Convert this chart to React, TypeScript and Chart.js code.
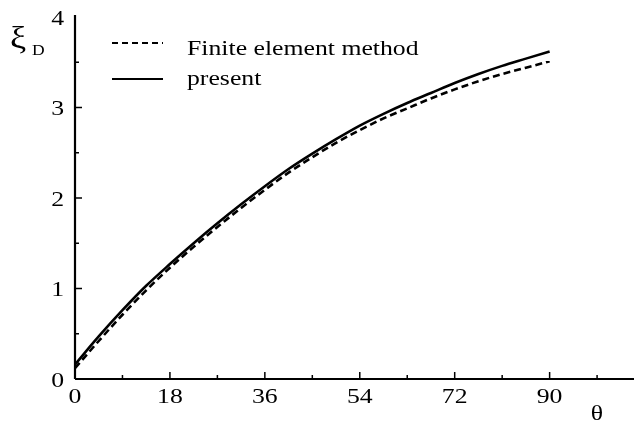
import React, { useEffect, useRef } from "react";
import { Chart, registerables } from "chart.js";

Chart.register(...registerables);

// ---- data ----
const thetaValues = [0, 4.5, 9, 13.5, 18, 22.5, 27, 31.5, 36, 40.5, 45, 49.5, 54, 58.5, 63, 67.5, 72, 76.5, 81, 85.5, 90];
const feValues = [0.12, 0.42, 0.71, 0.98, 1.23, 1.46, 1.68, 1.89, 2.09, 2.28, 2.45, 2.61, 2.75, 2.88, 2.99, 3.1, 3.2, 3.29, 3.37, 3.44, 3.51];
const presentValues = [0.16, 0.47, 0.76, 1.03, 1.27, 1.5, 1.72, 1.93, 2.13, 2.32, 2.49, 2.65, 2.8, 2.93, 3.05, 3.16, 3.27, 3.37, 3.46, 3.54, 3.62];

const xTickValues = [0, 18, 36, 54, 72, 90];
const xMinorTickValues = [9, 27, 45, 63, 81, 99];
const yTickValues = [0, 1, 2, 3, 4];
const yMinorTickValues = [0.5, 1.5, 2.5, 3.5];

const seriesNames = ["Finite element method", "present"];
const xAxisTitle = "θ";
const yAxisTitle = "ξ";
const yAxisSubscript = "D";

const FONT = "'Liberation Serif', 'DejaVu Serif', serif";
const STRETCH = 1.17;

function stretchedText(
  ctx: CanvasRenderingContext2D,
  text: string,
  x: number,
  y: number,
  size: number,
  align: CanvasTextAlign
) {
  ctx.save();
  ctx.font = `${size}px ${FONT}`;
  ctx.textAlign = align;
  ctx.textBaseline = "alphabetic";
  ctx.translate(x, y);
  ctx.scale(STRETCH, 1);
  ctx.fillText(text, 0, 0);
  ctx.restore();
}

const decorPlugin = {
  id: "decor",
  afterDraw(chart: any) {
    const ctx = chart.ctx as CanvasRenderingContext2D;
    const { left, top, bottom } = chart.chartArea;
    const xs = chart.scales.x;
    const ys = chart.scales.y;
    ctx.save();
    ctx.strokeStyle = "#000";
    ctx.fillStyle = "#000";
    // axes
    ctx.lineWidth = 2.2;
    ctx.beginPath();
    ctx.moveTo(left, bottom);
    ctx.lineTo(chart.width, bottom);
    ctx.moveTo(left, bottom);
    ctx.lineTo(left, top - 2);
    ctx.stroke();
    // ticks (inward)
    ctx.lineWidth = 1.5;
    ctx.beginPath();
    xTickValues.forEach((v) => {
      if (v === 0) return;
      const px = xs.getPixelForValue(v);
      ctx.moveTo(px, bottom);
      ctx.lineTo(px, bottom - 7);
    });
    xMinorTickValues.forEach((v) => {
      const px = xs.getPixelForValue(v);
      ctx.moveTo(px, bottom);
      ctx.lineTo(px, bottom - 4);
    });
    yTickValues.forEach((v) => {
      if (v === 0 || v === 4) return;
      const py = ys.getPixelForValue(v);
      ctx.moveTo(left, py);
      ctx.lineTo(left + 7, py);
    });
    yMinorTickValues.forEach((v) => {
      const py = ys.getPixelForValue(v);
      ctx.moveTo(left, py);
      ctx.lineTo(left + 4, py);
    });
    ctx.stroke();

    // tick labels
    xTickValues.forEach((v) => {
      stretchedText(ctx, String(v), xs.getPixelForValue(v), bottom + 24, 22, "center");
    });
    yTickValues.forEach((v) => {
      stretchedText(ctx, String(v), left - 11, ys.getPixelForValue(v) + 7.5, 22, "right");
    });

    // legend
    const lx0 = 112;
    const lx1 = 163;
    ctx.lineWidth = 1.8;
    ctx.setLineDash([6, 4]);
    ctx.beginPath();
    ctx.moveTo(lx0, 43);
    ctx.lineTo(lx1, 43);
    ctx.stroke();
    ctx.setLineDash([]);
    ctx.lineWidth = 2;
    ctx.beginPath();
    ctx.moveTo(lx0, 79);
    ctx.lineTo(lx1, 79);
    ctx.stroke();
    stretchedText(ctx, seriesNames[0], 187, 55, 22, "left");
    stretchedText(ctx, seriesNames[1], 187, 85, 22, "left");

    // axis titles
    stretchedText(ctx, yAxisTitle, 10, 48, 31, "left");
    stretchedText(ctx, yAxisSubscript, 32, 55, 15, "left");
    stretchedText(ctx, xAxisTitle, 597, 420, 22, "center");
    ctx.restore();
  },
};

export default function App() {
  const ref = useRef<HTMLCanvasElement | null>(null);
  useEffect(() => {
    if (!ref.current) return;
    const chart = new Chart(ref.current, {
      type: "line",
      data: {
        datasets: [
          {
            label: seriesNames[0],
            data: thetaValues.map((t, i) => ({ x: t, y: feValues[i] })),
            borderColor: "#000",
            borderWidth: 2.6,
            borderDash: [7, 4],
            pointRadius: 0,
            cubicInterpolationMode: "monotone",
            fill: false,
            clip: false as any,
          },
          {
            label: seriesNames[1],
            data: thetaValues.map((t, i) => ({ x: t, y: presentValues[i] })),
            borderColor: "#000",
            borderWidth: 2.6,
            pointRadius: 0,
            cubicInterpolationMode: "monotone",
            fill: false,
            clip: false as any,
          },
        ],
      },
      options: {
        responsive: false,
        animation: false,
        layout: { padding: { left: 75, right: 0, top: 17, bottom: 42 } },
        plugins: { legend: { display: false }, tooltip: { enabled: false } },
        scales: {
          x: {
            type: "linear",
            min: 0,
            max: 106,
            grid: { display: false, drawTicks: false },
            border: { display: false },
            ticks: { display: false, stepSize: 18 },
          },
          y: {
            type: "linear",
            min: 0,
            max: 4,
            grid: { display: false, drawTicks: false },
            border: { display: false },
            ticks: { display: false, stepSize: 1 },
          },
        },
      },
      plugins: [decorPlugin],
    });
    return () => chart.destroy();
  }, []);
  return (
    <div style={{ position: "fixed", left: 0, top: 0, width: 634, height: 421, background: "#fff" }}>
      <canvas ref={ref} width={634} height={421} style={{ width: 634, height: 421 }} />
    </div>
  );
}
